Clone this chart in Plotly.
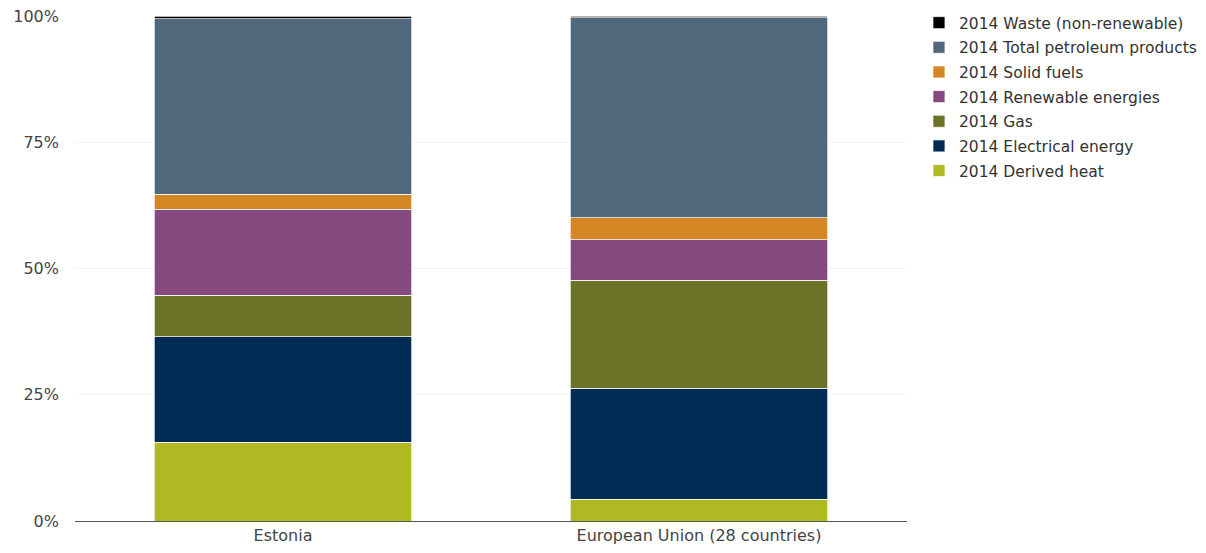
import plotly.graph_objects as go

categories = ["Estonia", "European Union (28 countries)"]
series_names = [
    "2014 Derived heat",
    "2014 Electrical energy",
    "2014 Gas",
    "2014 Renewable energies",
    "2014 Solid fuels",
    "2014 Total petroleum products",
    "2014 Waste (non-renewable)",
]
derived_heat = [15.6, 4.3]
electrical_energy = [20.9, 22.0]
gas = [8.2, 21.4]
renewable_energies = [17.0, 8.0]
solid_fuels = [3.0, 4.4]
petroleum_products = [34.8, 39.6]
waste = [0.5, 0.35]

series_values = [derived_heat, electrical_energy, gas, renewable_energies,
                 solid_fuels, petroleum_products, waste]
colors = ["#AFBA22", "#002B54", "#6B7328", "#86497E", "#D48625", "#52687D", "#000000"]

y_tickvals = [0, 25, 50, 75, 100]
y_ticktext = ["0%", "25%", "50%", "75%", "100%"]

fig = go.Figure()
n = len(series_names)
for i, (name, vals, col) in enumerate(zip(series_names, series_values, colors)):
    fig.add_trace(go.Bar(
        x=categories, y=vals, name=name, legendgroup=name,
        legendrank=(n - i) * 10,
        marker=dict(color=col, line=dict(color="white", width=0.7)),
        width=0.62,
    ))

fig.update_layout(
    barmode="stack",
    barnorm="percent",
    width=1206, height=553,
    margin=dict(l=75, r=299, t=16, b=32, autoexpand=False),
    paper_bgcolor="white", plot_bgcolor="white",
    font=dict(family="DejaVu Sans, Verdana, sans-serif", size=15, color="#333333"),
    legend=dict(
        xref="container", yref="container",
        x=0.762, y=0.989, xanchor="left", yanchor="top",
        traceorder="grouped",
        font=dict(size=15.5, color="#333333"),
        itemwidth=30,
        tracegroupgap=1.5,
    ),
    showlegend=True,
)
fig.update_xaxes(
    showline=True, linecolor="#555555", linewidth=1,
    showgrid=False, ticks="", tickfont=dict(size=16, color="#444444"),
)
fig.update_yaxes(
    range=[0, 100], tickvals=y_tickvals, ticktext=y_ticktext,
    showgrid=True, gridcolor="#F2F2F2", gridwidth=1,
    zeroline=False, showline=False,
    tickfont=dict(size=16, color="#444444"),
    ticklabelstandoff=15,
)

fig.write_html("out.html")
